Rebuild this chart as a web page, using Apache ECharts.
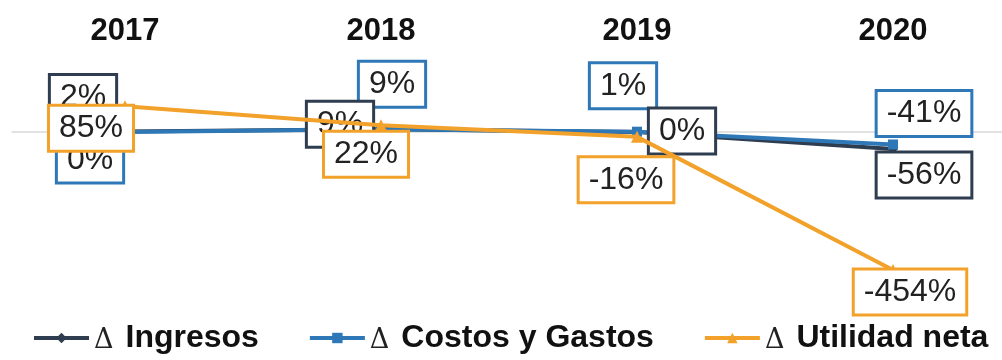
<!DOCTYPE html>
<html>
<head>
<meta charset="utf-8">
<script src="https://cdn.jsdelivr.net/npm/echarts@6/dist/echarts.min.js"></script>
<style>
html,body{margin:0;padding:0;background:#fff;}
#chart{width:1002px;height:360px;}
</style>
</head>
<body>
<div id="chart"></div>
<script>
var categories = ['2017', '2018', '2019', '2020'];
var seriesNames = ['Δ Ingresos', 'Δ Costos y Gastos', 'Δ Utilidad neta'];
var ingresos = [2, 9, 0, -56];
var costosGastos = [0, 9, 1, -41];
var utilidadNeta = [85, 22, -16, -454];

// label placement (style only, offsets from each point)
var offIngresos = [[-42, -34], [-41, -5], [45, -1], [31, 26]];
var offCostos = [[-35, 28], [11, -45], [-14, -46], [31, -31]];
var offUtilidad = [[-34, 22], [-15, 29], [-11, 43], [17, 22]];

var colors = ['#2F3D50', '#2E78B8', '#F2A12A'];
var FONT = "'Liberation Sans', Arial, sans-serif";

function mkData(vals, offs, color) {
  return vals.map(function (v, i) {
    return { value: v, label: { offset: offs[i], borderColor: color } };
  });
}

function labelStyle(c) {
  return {
    show: true,
    position: 'inside',
    formatter: function (p) { return p.value + '%'; },
    fontFamily: FONT,
    fontSize: 32,
    lineHeight: 32,
    color: '#222',
    backgroundColor: '#fff',
    borderWidth: 3,
    borderColor: c,
    padding: [6, 9, 5, 9]
  };
}

function mkSeries(idx, vals, offs, symbol, z, showLabel) {
  var c = colors[idx];
  var lbl = labelStyle(c);
  lbl.show = showLabel;
  return {
    name: seriesNames[idx],
    type: 'line',
    z: z,
    data: mkData(vals, offs, c),
    symbol: symbol,
    symbolSize: symbol === 'triangle' ? 12 : 10,
    itemStyle: { color: c },
    lineStyle: { color: c, width: 4 },
    emphasis: { disabled: true },
    label: lbl
  };
}

// label-only layer for Ingresos, placed between the blue and the orange series
var ingresosLabels = {
  name: 'ingresos-labels',
  type: 'line',
  z: 3.5,
  data: mkData(ingresos, offIngresos, colors[0]),
  symbol: 'circle',
  symbolSize: 1,
  showSymbol: true,
  itemStyle: { color: 'rgba(0,0,0,0)' },
  lineStyle: { opacity: 0, width: 0 },
  emphasis: { disabled: true },
  silent: true,
  label: labelStyle(colors[0])
};

var chart = echarts.init(document.getElementById('chart'), null, { renderer: 'canvas' });
chart.setOption({
  animation: false,
  backgroundColor: '#fff',
  grid: [
    { left: 125, right: 109, top: 101.6, height: 182.4 },
    { left: 12, right: 0, top: 101.6, height: 182.4 }
  ],
  xAxis: [
    {
      type: 'category',
      gridIndex: 0,
      data: categories,
      position: 'top',
      boundaryGap: false,
      axisLine: { show: false },
      axisTick: { show: false },
      splitLine: { show: false },
      axisLabel: { margin: 55, fontFamily: FONT, fontWeight: 'bold', fontSize: 31, color: '#111' }
    },
    {
      type: 'value',
      gridIndex: 1,
      min: 0,
      max: 1,
      axisLine: { show: true, onZero: true, lineStyle: { color: '#D9D9D9', width: 1.5 } },
      axisTick: { show: false },
      axisLabel: { show: false },
      splitLine: { show: false }
    }
  ],
  yAxis: [
    { type: 'value', gridIndex: 0, min: -500, max: 100, show: false, splitLine: { show: false } },
    { type: 'value', gridIndex: 1, min: -500, max: 100, show: false, splitLine: { show: false } }
  ],
  legend: {
    bottom: 1,
    left: 27,
    itemWidth: 55,
    itemHeight: 13,
    itemGap: 49,
    data: seriesNames,
    lineStyle: { width: 4 },
    formatter: function (name) {
      return '{d|Δ}{t|' + name.replace('Δ ', '') + '}';
    },
    textStyle: {
      rich: {
        d: { fontFamily: "'DejaVu Serif', 'Liberation Serif', serif", fontSize: 27, lineHeight: 27, verticalAlign: 'bottom', color: '#222', padding: [0, 12, 0, 0] },
        t: { fontFamily: FONT, fontWeight: 'bold', fontSize: 32, lineHeight: 32, verticalAlign: 'bottom', color: '#111' }
      }
    }
  },
  series: [
    mkSeries(0, ingresos, offIngresos, 'diamond', 2, false),
    mkSeries(1, costosGastos, offCostos, 'rect', 3, true),
    ingresosLabels,
    mkSeries(2, utilidadNeta, offUtilidad, 'triangle', 4, true)
  ]
});
</script>
</body>
</html>
